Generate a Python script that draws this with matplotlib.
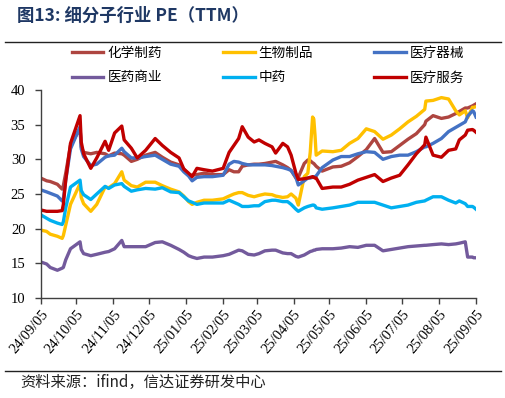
import matplotlib
matplotlib.use('Agg')
import matplotlib.pyplot as plt
from matplotlib.lines import Line2D
import pandas as pd

plt.rcParams['font.family'] = ['Noto Sans CJK SC', 'DejaVu Sans']

# 数据
dates = pd.to_datetime([
    '2024-09-05', '2024-09-10', '2024-09-13', '2024-09-19', '2024-09-23', '2024-09-24',
    '2024-09-26', '2024-09-30', '2024-10-08', '2024-10-09', '2024-10-11', '2024-10-17',
    '2024-10-22', '2024-10-29', '2024-11-01', '2024-11-06', '2024-11-12', '2024-11-14',
    '2024-11-20', '2024-11-25', '2024-12-02', '2024-12-10', '2024-12-16', '2024-12-23',
    '2024-12-30', '2025-01-03', '2025-01-07', '2025-01-10', '2025-01-14', '2025-01-20',
    '2025-01-27', '2025-02-05', '2025-02-10', '2025-02-14', '2025-02-18', '2025-02-21',
    '2025-02-26', '2025-03-03', '2025-03-07', '2025-03-12', '2025-03-18', '2025-03-21',
    '2025-03-27', '2025-03-31', '2025-04-03', '2025-04-07', '2025-04-09', '2025-04-14',
    '2025-04-17', '2025-04-19', '2025-04-21', '2025-04-22', '2025-04-23', '2025-04-24',
    '2025-04-29', '2025-05-08', '2025-05-15', '2025-05-22', '2025-05-29', '2025-06-05',
    '2025-06-12', '2025-06-19', '2025-06-26', '2025-07-03', '2025-07-10', '2025-07-17',
    '2025-07-24', '2025-07-25', '2025-07-31', '2025-08-07', '2025-08-13', '2025-08-19',
    '2025-08-22', '2025-08-27', '2025-08-29', '2025-09-02', '2025-09-03', '2025-09-05',
])

chem = [27.3, 26.9, 26.8, 26.4, 25.7, 26.2, 28.0, 32.0, 34.5, 31.8, 31.0, 30.8,
        31.0, 30.8, 30.5, 30.9, 30.8, 30.6, 29.7, 30.0, 30.6, 31.0, 30.3, 29.6,
        29.2, 28.6, 27.8, 27.7, 27.8, 28.0, 27.8, 27.8, 28.5, 28.2, 28.2, 29.0,
        29.2, 29.3, 29.3, 29.4, 29.6, 29.7, 29.2, 28.8, 28.4, 27.3, 27.4, 29.4,
        29.9, 29.8, 29.5, 29.4, 29.2, 29.0, 28.3, 28.9, 29.0, 29.5, 30.4, 31.4,
        33.0, 31.0, 31.1, 32.0, 32.9, 33.7, 35.0, 35.5, 36.3, 35.9, 36.1, 36.6,
        36.9, 37.4, 37.4, 37.7, 37.8, 38.0]

bio = [19.8, 19.6, 19.2, 18.9, 18.6, 19.0, 20.5, 23.5, 26.5, 24.5, 23.6, 22.5,
       23.5, 26.0, 25.9, 26.5, 28.2, 27.0, 26.2, 26.0, 26.7, 26.7, 26.2, 25.7,
       25.3, 24.7, 23.9, 23.5, 23.8, 24.1, 24.1, 24.3, 24.7, 25.0, 25.2, 25.2,
       24.8, 24.6, 24.8, 25.0, 24.9, 24.7, 24.5, 24.6, 25.0, 24.4, 23.4, 27.5,
       28.0, 31.0, 36.1, 35.8, 33.5, 30.6, 31.2, 31.1, 31.3, 32.3, 33.0, 34.4,
       34.0, 32.9, 33.5, 34.4, 35.4, 36.2, 37.2, 38.4, 38.5, 38.9, 38.7, 37.0,
       36.4, 37.0, 36.0, 37.5, 37.5, 37.6]

device = [25.6, 25.3, 25.1, 24.7, 24.0, 24.3, 27.0, 31.5, 34.7, 31.5, 30.4, 29.1,
          29.3, 30.3, 30.5, 30.6, 31.6, 31.1, 30.2, 30.2, 30.4, 30.6, 30.0, 29.3,
          29.0, 28.2, 27.6, 26.9, 27.4, 27.5, 27.5, 27.7, 29.3, 29.7, 29.6, 29.4,
          29.2, 29.2, 29.2, 29.2, 29.1, 29.0, 28.8, 28.6, 28.4, 27.4, 26.3, 26.9,
          27.3, 27.3, 27.4, 27.5, 27.5, 27.6, 28.8, 29.9, 30.4, 30.4, 30.8, 31.1,
          31.0, 30.0, 30.4, 30.6, 30.6, 31.1, 31.8, 31.8, 32.3, 33.0, 34.0, 34.6,
          34.9, 35.4, 36.2, 37.0, 36.9, 36.1]

commerce = [15.2, 14.9, 14.4, 14.0, 14.3, 14.4, 15.5, 17.1, 18.1, 17.0, 16.4, 16.1,
            16.3, 16.6, 16.7, 17.1, 18.3, 17.4, 17.4, 17.4, 17.4, 18.0, 18.1, 17.6,
            17.0, 16.6, 16.1, 15.9, 15.7, 15.9, 15.9, 16.1, 16.3, 16.6, 16.9, 16.8,
            16.3, 16.2, 16.4, 16.8, 16.9, 16.9, 16.5, 16.4, 16.4, 16.0, 15.9, 16.2,
            16.5, 16.7, 16.8, 16.9, 16.9, 17.0, 17.1, 17.1, 17.2, 17.4, 17.3, 17.6,
            17.6, 16.8, 17.0, 17.2, 17.4, 17.5, 17.6, 17.6, 17.7, 17.8, 17.7, 17.8,
            17.9, 18.1, 15.9, 15.9, 15.8, 15.8]

tcm = [22.0, 21.5, 21.2, 20.8, 20.6, 21.0, 23.0, 26.0, 27.0, 25.5, 24.9, 24.2,
       25.0, 26.1, 25.8, 26.3, 26.5, 26.1, 25.4, 25.6, 25.8, 25.7, 25.9, 25.3,
       25.2, 24.6, 24.0, 23.8, 23.5, 23.7, 23.7, 23.7, 24.1, 23.8, 23.5, 23.2,
       23.2, 23.3, 23.3, 23.9, 24.1, 24.1, 23.9, 23.9, 23.5, 22.8, 22.5, 23.0,
       23.2, 23.3, 23.4, 23.4, 23.3, 23.0, 22.8, 23.0, 23.2, 23.4, 23.8, 23.8,
       23.8, 23.4, 23.0, 23.2, 23.4, 23.8, 24.0, 24.1, 24.6, 24.6, 24.1, 23.7,
       24.0, 23.6, 23.2, 23.2, 23.1, 22.8]

service = [22.7, 22.5, 22.5, 22.5, 22.6, 23.5, 27.0, 32.3, 36.3, 32.5, 30.8, 28.7,
           30.2, 32.6, 31.3, 33.8, 34.8, 32.8, 31.6, 30.2, 31.3, 33.0, 32.0, 31.0,
           30.2, 28.6, 28.0, 27.5, 28.7, 28.5, 28.3, 28.7, 31.0, 32.0, 33.0, 34.7,
           33.2, 32.5, 32.8, 32.3, 31.8, 30.9, 32.3, 31.8, 30.6, 28.0, 27.1, 27.2,
           27.3, 27.4, 27.5, 27.4, 27.3, 27.3, 25.8, 26.0, 26.0, 26.4, 27.0, 27.4,
           27.8, 26.8, 27.3, 27.7, 29.2, 30.8, 32.1, 33.2, 30.6, 30.3, 31.3, 31.5,
           32.8, 33.5, 34.2, 34.3, 34.2, 33.9]

names = ['化学制药', '生物制品', '医疗器械', '医药商业', '中药', '医疗服务']
colors = ['#AE4540', '#FFC000', '#4472C4', '#735A9C', '#00B0F0', '#C00000']

tick_labels = ['24/09/05', '24/10/05', '24/11/05', '24/12/05', '25/01/05', '25/02/05',
               '25/03/05', '25/04/05', '25/05/05', '25/06/05', '25/07/05', '25/08/05',
               '25/09/05']
tick_dates = pd.to_datetime(tick_labels, format='%y/%m/%d')

fig = plt.figure(figsize=(5.06, 3.98), dpi=100)
ax = fig.add_axes([0.0804, 0.2513, 0.8603, 0.5226])

lines = []
for vals, name, c in zip([chem, bio, device, commerce, tcm, service], names, colors):
    ln, = ax.plot(dates, vals, color=c, lw=2.4, label=name, solid_joinstyle='round')
    lines.append(ln)

ax.set_xlim(tick_dates[0], tick_dates[-1])
ax.set_ylim(10, 40)
ax.set_yticks(range(10, 41, 5))
ax.set_xticks(tick_dates)
ax.set_xticklabels(tick_labels, rotation=50, ha='right', rotation_mode='anchor')

ax.spines[['top', 'right']].set_visible(False)
for s in ['left', 'bottom']:
    ax.spines[s].set_color('#404040')
    ax.spines[s].set_linewidth(1.0)
ax.tick_params(direction='out', length=4, width=1, color='#404040', labelsize=10.5)
ax.tick_params(axis='y', pad=7)
ax.tick_params(axis='x', pad=3)
for lbl in ax.get_xticklabels() + ax.get_yticklabels():
    lbl.set_fontfamily('Liberation Serif')

# 图例按行排列：化学制药 生物制品 医疗器械 / 医药商业 中药 医疗服务
order = [0, 3, 1, 4, 2, 5]
fig.legend([lines[i] for i in order], [names[i] for i in order],
           loc='center', bbox_to_anchor=(0.53, 0.836), ncol=3, frameon=False,
           fontsize=9.8, handlelength=2.3, handletextpad=0.3, columnspacing=4.5,
           labelspacing=0.75, borderpad=0)

# 标题与分隔线
fig.text(17 / 506, 1 - 15.5 / 398, '图13: 细分子行业 PE（TTM）', fontsize=12.5,
         fontweight='bold', color='#1F3864', ha='left', va='center')
fig.add_artist(Line2D([0.01, 0.99], [1 - 41.5 / 398] * 2, transform=fig.transFigure,
                      color='#222222', lw=1.0))
fig.add_artist(Line2D([0.01, 0.99], [1 - 371 / 398] * 2, transform=fig.transFigure,
                      color='#222222', lw=1.0))
fig.text(20 / 506, 1 - 382 / 398, '资料来源：ifind，信达证券研发中心', fontsize=11,
         color='#222222', ha='left', va='center')

fig.savefig('out.png', dpi=100)
